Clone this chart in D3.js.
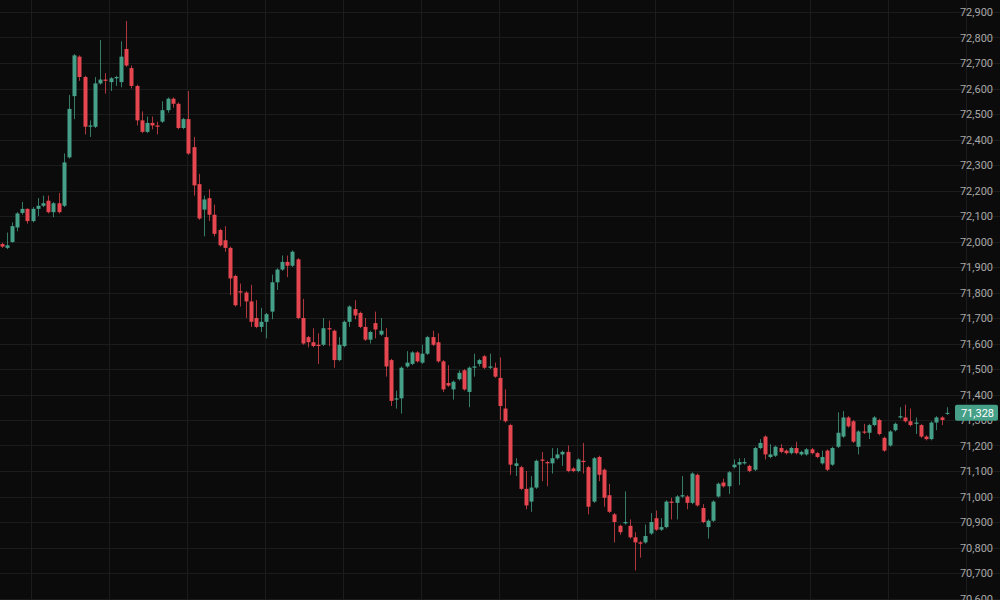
<!DOCTYPE html>
<html>
<head>
<meta charset="utf-8">
<script src="https://cdn.jsdelivr.net/npm/d3@7"></script>
<style>
  body { margin: 0; background: #0b0b0b; }
  svg { display: block; }
</style>
</head>
<body>
<svg id="chart" width="1000" height="600"></svg>
<script>
// OHLC, one entry per candle
var opens = [71990,71975,71998,72055,72112,72128,72080,72128,72140,72160,72115,72150,72140,72330,72570,72725,72645,72450,72450,72620,
  72635,72625,72640,72625,72755,72680,72610,72475,72430,72465,72455,72470,72515,72560,72540,72445,72480,72370,72225,72125,
  72170,72105,72045,72005,71975,71865,71805,71800,71765,71700,71665,71685,71725,71840,71890,71920,71905,71930,71700,71625,
  71605,71595,71595,71660,71650,71535,71590,71685,71735,71720,71665,71615,71680,71635,71625,71535,71380,71385,71510,71520,
  71565,71525,71560,71625,71605,71530,71445,71420,71460,71495,71410,71505,71520,71550,71505,71505,71465,71345,71280,71120,
  71115,71030,70980,71035,71145,71135,71130,71150,71165,71175,71110,71100,71140,71115,70980,71155,71105,71005,70930,70885,
  70895,70885,70840,70820,70820,70855,70915,70870,70880,70980,70975,71000,71000,70975,71085,70955,70880,70905,71000,71055,
  71040,71115,71125,71130,71120,71105,71190,71235,71155,71160,71190,71180,71170,71190,71165,71165,71185,71170,71130,71180,
  71125,71195,71235,71310,71295,71195,71255,71250,71280,71300,71230,71200,71260,71310,71310,71295,71285,71280,71235,71225,
  71290,71310,71325];
var highs = [71995,72035,72075,72115,72155,72130,72135,72170,72180,72180,72155,72190,72345,72575,72735,72730,72650,72475,72645,72790,
  72660,72645,72650,72785,72865,72690,72615,72510,72490,72490,72470,72550,72565,72565,72545,72485,72590,72410,72265,72180,
  72205,72145,72050,72060,71980,71870,71835,71805,71830,71770,71740,71720,71870,71895,71945,71945,71965,71935,71775,71630,
  71660,71640,71700,71690,71655,71625,71690,71750,71770,71725,71700,71650,71725,71700,71660,71540,71415,71510,71570,71570,
  71570,71595,71630,71650,71640,71535,71515,71455,71495,71500,71510,71560,71540,71555,71560,71525,71545,71420,71285,71150,
  71120,71100,71080,71145,71175,71140,71190,71190,71180,71200,71115,71150,71210,71120,71155,71160,71110,71050,70935,70890,
  71020,70910,70860,70825,70890,70935,70945,70915,70985,70995,71005,71080,71005,71095,71090,70970,70910,70985,71055,71070,
  71100,71145,71150,71150,71125,71195,71225,71240,71205,71200,71205,71185,71195,71215,71180,71190,71190,71175,71180,71185,
  71195,71330,71335,71315,71300,71260,71285,71285,71315,71305,71235,71260,71290,71350,71360,71345,71310,71285,71240,71295,
  71315,71315,71350];
var lows = [71975,71970,71995,72040,72105,72070,72075,72100,72135,72110,72095,72110,72135,72325,72480,72630,72420,72410,72445,72615,
  72580,72590,72610,72605,72685,72600,72455,72425,72425,72440,72420,72465,72505,72525,72440,72440,72340,72180,72085,72020,
  72080,72020,71980,71960,71790,71745,71745,71700,71665,71660,71645,71620,71695,71810,71885,71860,71900,71695,71595,71585,
  71585,71520,71590,71590,71505,71530,71585,71665,71695,71660,71610,71600,71620,71630,71470,71355,71345,71325,71505,71515,
  71525,71520,71555,71590,71525,71410,71430,71380,71455,71415,71350,71470,71510,71500,71500,71465,71300,71290,71085,71080,
  71025,70950,70940,71030,71060,71040,71090,71145,71120,71095,71095,71095,71090,70930,70975,71060,70960,70935,70820,70850,
  70890,70835,70710,70760,70815,70850,70865,70865,70875,70910,70910,70995,70950,70970,70960,70895,70835,70900,70995,71035,
  71010,71110,71045,71125,71095,71100,71185,71145,71150,71155,71170,71165,71165,71165,71160,71160,71165,71150,71125,71100,
  71120,71190,71230,71270,71210,71165,71245,71225,71275,71240,71175,71195,71255,71305,71290,71275,71245,71230,71220,71220,
  71260,71280,71320];
var closes = [71980,71985,72060,72110,72128,72080,72128,72140,72150,72115,72150,72115,72310,72520,72730,72645,72450,72455,72620,72635,
  72630,72640,72645,72725,72690,72610,72475,72430,72465,72455,72450,72515,72560,72540,72445,72480,72345,72220,72090,72165,
  72105,72030,71985,71975,71855,71750,71800,71765,71685,71665,71685,71715,71840,71890,71920,71905,71960,71700,71600,71605,
  71590,71590,71660,71655,71535,71595,71685,71745,71710,71665,71615,71645,71655,71650,71510,71375,71385,71505,71525,71565,
  71530,71560,71625,71595,71530,71420,71435,71450,71485,71420,71505,71510,71535,71505,71510,71470,71355,71295,71125,71130,
  71030,70965,71035,71140,71140,71130,71150,71165,71175,71100,71100,71145,71135,70960,71150,71085,70995,70940,70900,70860,
  70900,70840,70820,70815,70845,70900,70870,70880,70980,70975,71000,71005,70975,71090,70965,70900,70905,70980,71050,71040,
  71095,71125,71135,71135,71100,71190,71210,71165,71165,71195,71175,71170,71190,71170,71175,71185,71170,71155,71155,71105,
  71190,71250,71310,71275,71215,71255,71250,71280,71310,71245,71180,71255,71285,71315,71295,71280,71290,71235,71225,71290,
  71310,71300,71328];
var priceTicks = d3.range(70600, 72901, 100);
var lastPrice = 71328;

var candles = opens.map(function (o, i) {
  return { i: i, o: o, h: highs[i], l: lows[i], c: closes[i] };
});

var svg = d3.select("#chart");
var up = "#46a088", down = "#e5464f";

var x = d3.scaleLinear().domain([0, candles.length - 1]).range([1.5, 946.7]);
var y = d3.scaleLinear().domain([70600, 72900]).range([598.5, 12]);

svg.append("rect").attr("width", 1000).attr("height", 600).attr("fill", "#0b0b0b");

// grid
var vgrid = d3.range(5.77, candles.length + 10, 15);
svg.append("g").selectAll("line").data(vgrid).join("line")
  .attr("x1", d => Math.round(x(d)) + 0.5).attr("x2", d => Math.round(x(d)) + 0.5)
  .attr("y1", 0).attr("y2", 600)
  .attr("stroke", "#1c1c1c").attr("stroke-width", 1);

svg.append("g").selectAll("line").data(priceTicks).join("line")
  .attr("x1", 0).attr("x2", 1000)
  .attr("y1", d => Math.round(y(d)) + 0.5).attr("y2", d => Math.round(y(d)) + 0.5)
  .attr("stroke", "#1c1c1c").attr("stroke-width", 1);

// price axis
var axis = d3.axisRight(y).tickValues(priceTicks).tickSize(0).tickFormat(d3.format(","));
var ag = svg.append("g").attr("transform", "translate(957,0)").call(axis);
ag.select(".domain").remove();
ag.selectAll("text")
  .attr("fill", "#a8a8a8")
  .attr("font-family", "Roboto, 'Noto Sans', sans-serif")
  .attr("font-size", "11px")
  .attr("x", 36).attr("text-anchor", "end");

// candles
var g = svg.append("g");
g.selectAll("line").data(candles).join("line")
  .attr("x1", d => Math.round(x(d.i)) + 0.5).attr("x2", d => Math.round(x(d.i)) + 0.5)
  .attr("y1", d => y(d.h)).attr("y2", d => y(d.l))
  .attr("stroke", d => d.c >= d.o ? up : down)
  .attr("stroke-opacity", 0.75)
  .attr("stroke-width", 1);

g.selectAll("rect").data(candles).join("rect")
  .attr("x", d => Math.round(x(d.i)) - 1.5)
  .attr("width", 4)
  .attr("y", d => y(Math.max(d.o, d.c)))
  .attr("height", d => Math.max(1, Math.abs(y(d.o) - y(d.c))))
  .attr("fill", d => d.c >= d.o ? up : down);

// last price label
var lp = svg.append("g").attr("transform", "translate(955," + y(lastPrice) + ")");
lp.append("rect").attr("x", 0).attr("y", -8).attr("width", 43).attr("height", 16)
  .attr("rx", 2).attr("fill", "#46a088");
lp.append("text").attr("x", 39).attr("y", 4).attr("text-anchor", "end")
  .attr("fill", "#ffffff").attr("font-size", "11px")
  .attr("font-family", "Roboto, 'Noto Sans', sans-serif")
  .text(d3.format(",")(lastPrice));
</script>
</body>
</html>
